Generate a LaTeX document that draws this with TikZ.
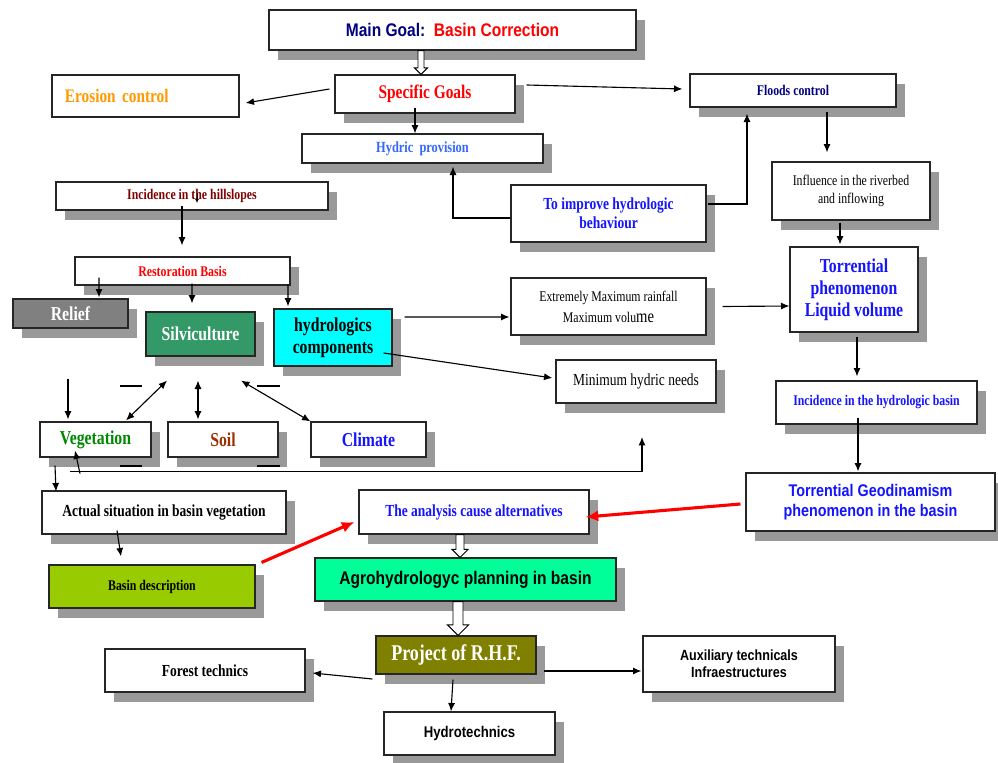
\documentclass[tikz,border=0pt]{standalone}
\usepackage{fontspec}
\setmainfont{Liberation Serif}[FakeStretch=0.8]
\newfontfamily\arialc{Liberation Sans}[FakeStretch=0.85]
\usetikzlibrary{arrows.meta,shadows,calc}

\definecolor{navyt}{RGB}{0,0,128}
\definecolor{redt}{RGB}{255,0,0}
\definecolor{oranget}{RGB}{255,153,0}
\definecolor{skyt}{RGB}{51,102,255}
\definecolor{bluet}{RGB}{20,20,255}
\definecolor{maroont}{RGB}{128,0,0}
\definecolor{greent}{RGB}{0,136,0}
\definecolor{brownt}{RGB}{153,51,0}
\definecolor{silvfill}{RGB}{51,153,102}
\definecolor{cyanfill}{RGB}{0,255,255}
\definecolor{relieffill}{RGB}{128,128,128}
\definecolor{descfill}{RGB}{153,204,0}
\definecolor{agrofill}{RGB}{0,255,153}
\definecolor{projfill}{RGB}{128,128,0}
\definecolor{shadowgray}{RGB}{153,153,153}

\newcommand{\hollowarrow}[4]{%
	\draw[fill=white, line width=0.7pt]
		($(#1)+(-#3,0)$) -- ($(#2)+(-#3,-#4)$) -- ($(#2)+(-#4,-#4)$) -- (#2)
		-- ($(#2)+(#4,-#4)$) -- ($(#2)+(#3,-#4)$) -- ($(#1)+(#3,0)$) -- cycle;}

\begin{document}
\begin{tikzpicture}[x=0.025cm, y=-0.025cm,
	box/.style={draw=black!85, line width=0.8pt, fill=white, inner sep=0pt, align=center,
		drop shadow={shadow xshift=0.23cm, shadow yshift=-0.25cm, fill=shadowgray, opacity=1}},
	flat/.style={draw=black!85, line width=0.8pt, fill=white, inner sep=0pt},
	sz/.style 2 args={minimum width=#1*0.025cm, minimum height=#2*0.025cm},
	txt/.style 2 args={font={\fontsize{#1}{#2}\selectfont}},
	txtb/.style 2 args={font={\fontsize{#1}{#2}\selectfont\bfseries}},
	sans/.style 2 args={font={\arialc\fontsize{#1}{#2}\selectfont\bfseries}},
	arr/.style={line width=0.8pt, -{Latex[length=6pt,width=5pt]}},
	darr/.style={line width=0.8pt, {Latex[length=6pt,width=5pt]}-{Latex[length=6pt,width=5pt]}},
	redarr/.style={draw=redt, line width=2.2pt, -{Latex[length=9pt,width=8pt]}}]
	\useasboundingbox (0,0) rectangle (998,762);

	\node[box, sz={367}{40}, sans={13}{15}] (main) at (452.5,30) {\textcolor{navyt}{Main Goal:}\ \ \textcolor{redt}{Basin Correction}};
	\node[flat, sz={187}{42}, txtb={13.6}{15}, text=oranget, align=left, text width=4.025cm, inner xsep=0.325cm] (eros) at (145.5,96) {Erosion control};
	\node[box, sz={180}{38}, txtb={13.7}{15}, text=redt] (spec) at (425,94) {Specific Goals};
	\node[box, sz={206}{33}, txtb={10.5}{12}, text=navyt] (flood) at (793,90.5) {Floods control};
	\node[box, sz={241}{29}, txtb={11}{12}, text=skyt] (hydric) at (422.5,148.5) {Hydric\ \ provision};
	\node[box, sz={195}{57}, txtb={12}{13.5}, text=bluet] (improve) at (608.5,213.5) {To improve hydrologic\\behaviour};
	\node[box, sz={158}{58}, txt={10.5}{12.8}] (infl) at (851,191) {Influence in the riverbed\\and inflowing};
	\node[box, sz={128}{85}, txtb={14}{15.6}, text=bluet] (torr) at (854,289.5) {Torrential\\phenomenon\\Liquid volume};
	\node[box, sz={195}{57}, txt={10.5}{14.9}] (extr) at (608.5,306.5) {Extremely Maximum rainfall\\Maximum volu{\fontsize{13}{14.9}\selectfont me}};
	\node[box, sz={118}{57}, fill=cyanfill, txtb={14}{15.6}] (hydrol) at (333,337.5) {hydrologics\\components};
	\node[box, sz={160}{43}, txt={12}{14}] (minim) at (636,381.5) {Minimum hydric needs};
	\node[box, sz={201}{43}, txtb={10.5}{12}, text=bluet] (incb) at (876.5,402.5) {Incidence in the hydrologic basin};
	\node[box, sz={249}{58}, sans={12}{14.2}, text=bluet] (geod) at (870.5,502) {Torrential Geodinamism\\phenomenon in the basin};
	\node[box, sz={230}{44}, txtb={12}{14}, text=bluet] (ana) at (474,512) {The analysis cause alternatives};
	\node[box, sz={301}{43}, fill=agrofill, sans={13}{15}] (agro) at (465.5,579.5) {Agrohydrologyc planning in basin};
	\node[box, sz={160}{38}, fill=projfill, txtb={16}{18}, text=white] (proj) at (456,655) {Project of R.H.F.};
	\node[box, sz={200}{43}, txtb={12}{14}] (forest) at (205,670.5) {Forest technics};
	\node[box, sz={192}{56}, sans={10.5}{12}] (aux) at (739,664) {Auxiliary technicals\\Infraestructures};
	\node[box, sz={171}{43}, sans={11}{13}] (hydt) at (469.5,733.5) {Hydrotechnics};
	\node[box, sz={244}{43}, txtb={12}{14}] (actual) at (164,512.5) {Actual situation in basin vegetation};
	\node[box, sz={206}{43}, fill=descfill, txtb={10.5}{12}] (desc) at (152,586.5) {Basin description};
	\node[box, sz={272}{28}, txtb={10.5}{12}, text=maroont] (hill) at (192,196) {Incidence in the hillslopes};
	\node[box, sz={215}{28}, txtb={10.5}{12}, text=redt] (rest) at (182.5,271) {Restoration Basis};
	\node[box, sz={115}{29}, fill=relieffill, txtb={14}{15}, text=white] (relief) at (70.5,313.5) {Relief};
	\node[box, sz={109}{44}, fill=silvfill, txtb={14}{15}, text=white] (silv) at (200.5,334) {Silviculture};
	\node[box, sz={111}{35}, txtb={14}{15}, text=greent] (veg) at (95.5,439.5) {Vegetation};
	\node[box, sz={110}{35}, txtb={14}{15}, text=brownt] (soil) at (223,439.5) {Soil};
	\node[box, sz={115}{35}, txtb={14}{15}, text=bluet] (clim) at (368.5,439.5) {Climate};

	\draw[arr] ([shift={(-5,-5)}]spec.west) -- ([shift={(6,7)}]eros.east);
	\draw[arr] ([shift={(11,-9)}]spec.east) -- ([shift={(-7,-1.5)}]flood.west);
	\draw[arr] ([shift={(-10,-6)}]spec.south) -- ([shift={(-7.5,0)}]hydric.north);
	\draw[arr] ([shift={(0,4.5)}]improve.west) -| ([shift={(30.5,3)}]hydric.south);
	\draw[arr] ([shift={(1,-9.5)}]improve.east) -| ([shift={(-46,6)}]flood.south);
	\draw[arr] ([shift={(34,4)}]flood.south) -- ([shift={(-24,-9)}]infl.north);
	\draw[arr] ([shift={(-11,2)}]infl.south) -- ([shift={(-14,-2)}]torr.north);
	\draw[arr] ([shift={(16,0)}]extr.east) -- ([shift={(0,16.5)}]torr.west);
	\draw[arr] ([shift={(12,-20.5)}]hydrol.east) -- ([shift={(-1,10.5)}]extr.west);
	\draw[arr] ([shift={(-9,15.5)}]hydrol.east) -- ([shift={(-3,-3.5)}]minim.west);
	\draw[arr] ([shift={(3,4)}]torr.south) -- ([shift={(-19.5,-4)}]incb.north);
	\draw[arr] ([shift={(-18.5,-7)}]incb.south) -- ([shift={(-12.5,-1)}]geod.north);
	\draw[redarr] ([shift={(-5,2)}]geod.west) -- ([shift={(-4,5)}]ana.east);
	\draw[redarr] ([shift={(6,-2)}]desc.north east) -- ([shift={(-4,10)}]ana.west);
	\draw[arr] ([shift={(-47,-4)}]actual.south) -- ([shift={(-31,-8)}]desc.north);
	\draw[arr] ([shift={(-40.5,8)}]veg.south) -- ([shift={(-108,1)}]actual.north);
	\draw[arr] ([shift={(-10,-5)}]hill.south) -- ([shift={(-0.5,-11)}]rest.north);
	\draw[line width=0.6pt, -{Latex[length=3pt,width=3pt]}] ([shift={(5,-3)}]hill.center) -- ([shift={(5,7)}]hill.center);
	\draw[arr] ([shift={(-83.5,-8)}]rest.south) -- ([shift={(28.5,-1)}]relief.north);
	\draw[arr] ([shift={(9.5,-2)}]rest.south) -- ([shift={(-8.5,-8)}]silv.north);
	\draw[arr] ([shift={(105.5,-1)}]rest.south) -- ([shift={(-45,-2)}]hydrol.north);
	\draw[arr] ([shift={(-2.5,50)}]relief.south) -- ([shift={(-27.5,-2)}]veg.north);
	\draw[darr] ([shift={(-33.5,24)}]silv.south) -- ([shift={(30.5,-1)}]veg.north);
	\draw[darr] ([shift={(-2.5,24)}]silv.south) -- ([shift={(-25,-2)}]soil.north);
	\draw[darr] ([shift={(40.5,24)}]silv.south) -- (clim.north west);
	\coordinate (up) at (642,437);
	\draw[arr] ([shift={(-25.5,14)}]veg.south) -| (up);
	\draw[arr] ([shift={(-15.5,16)}]veg.south) -- ([shift={(-20.5,-7)}]veg.south);
	\draw[line width=0.8pt] (120,386) -- (142,386) (257,386) -- (280,386);
	\draw[line width=0.8pt] (120,466) -- (142,466) (257,466) -- (280,466);
	\draw[arr] ([shift={(-3,24)}]proj.west) -- ([shift={(7,2.5)}]forest.east);
	\draw[arr] ([shift={(7,16)}]proj.east) -- ([shift={(-1,7)}]aux.west);
	\draw[arr] ([shift={(-3,5)}]proj.south) -- ([shift={(-18.5,0)}]hydt.north);

	\coordinate (ga) at (421,0 |- main.south);
	\coordinate (gb) at (421,0 |- spec.north);
	\hollowarrow{ga}{gb}{3}{6.5}
	\coordinate (aa) at (460,0 |- ana.south);
	\coordinate (ab) at (460,0 |- agro.north);
	\hollowarrow{aa}{ab}{4}{8}
	\coordinate (pa) at (458,0 |- agro.south);
	\coordinate (pb) at (458,0 |- proj.north);
	\hollowarrow{pa}{pb}{5}{10.5}
\end{tikzpicture}
\end{document}
